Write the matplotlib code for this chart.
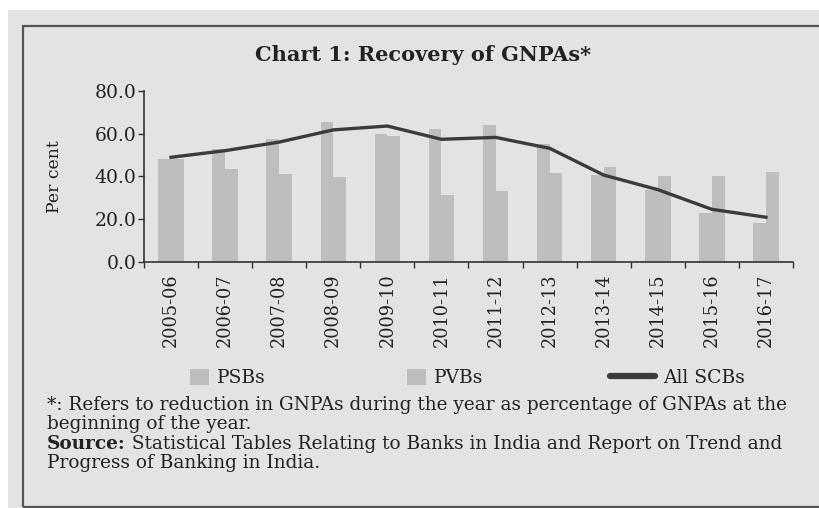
import matplotlib
matplotlib.use("Agg")
import matplotlib.pyplot as plt
from matplotlib.patches import Rectangle
import numpy as np

years = ["2005-06", "2006-07", "2007-08", "2008-09", "2009-10", "2010-11",
         "2011-12", "2012-13", "2013-14", "2014-15", "2015-16", "2016-17"]
psbs = [48.0, 53.0, 57.6, 65.6, 59.6, 62.1, 63.9, 55.1, 40.8, 33.6, 23.0, 18.4]
pvbs = [48.0, 43.4, 41.3, 39.9, 59.0, 31.1, 33.3, 41.4, 44.2, 40.0, 40.2, 42.0]
all_scbs = [48.9, 52.0, 56.0, 61.7, 63.5, 57.3, 58.2, 53.1, 40.6, 33.8, 24.6, 20.9]

BG = "#e3e3e3"
BAR = "#bebebe"
LINE = "#3b3b3b"
TXT = "#222222"
SERIF = "DejaVu Serif"

fig = plt.figure(figsize=(8.2, 5.08), dpi=100)
fig.patch.set_facecolor("white")

# grey panel + dark frame
fig.patches.append(Rectangle((8 / 820, 0), 1, 1 - 10 / 508, transform=fig.transFigure,
                             facecolor=BG, edgecolor="none", zorder=-3))
fig.patches.append(Rectangle((23.5 / 820, 1.5 / 508), 1, 1 - 27 / 508, transform=fig.transFigure,
                             facecolor="none", edgecolor="#555555", linewidth=1.6, zorder=-2))

ax = fig.add_axes([144 / 820, 1 - 262 / 508, 649 / 820, 171.3 / 508])
ax.set_facecolor(BG)

x = np.arange(len(years))
w = 0.235
ax.bar(x - w / 2, psbs, w, color=BAR, label="PSBs", zorder=2)
ax.bar(x + w / 2, pvbs, w, color=BAR, label="PVBs", zorder=2)
ax.plot(x, all_scbs, color=LINE, linewidth=2.4, label="All SCBs", zorder=3)

ax.set_xlim(-0.5, len(years) - 0.5)
ax.set_ylim(0, 80)
ax.set_yticks([0, 20, 40, 60, 80])
ax.set_yticklabels([f"{v:.1f}" for v in [0, 20, 40, 60, 80]], fontfamily=SERIF, fontsize=13.5, color=TXT)

# ticks at category boundaries, labels at centres
ax.set_xticks(np.arange(-0.5, len(years), 1.0))
ax.set_xticklabels([])
ax.set_xticks(x, minor=True)
ax.set_xticklabels(years, minor=True, rotation=90, fontfamily=SERIF, fontsize=12.8, color=TXT)
ax.tick_params(axis="x", which="major", length=4.5, width=1, color="#333333", direction="out")
ax.tick_params(axis="x", which="minor", length=0, pad=8)
ax.tick_params(axis="y", length=4.5, width=1, color="#333333", pad=1)

for s in ["top", "right"]:
    ax.spines[s].set_visible(False)
for s in ["left", "bottom"]:
    ax.spines[s].set_color("#333333")
    ax.spines[s].set_linewidth(1.2)

ax.set_ylabel("Per cent", fontfamily=SERIF, fontsize=12.4, color=TXT)
ax.yaxis.set_label_coords(-0.125, 0.5)

fig.text(423 / 820, 1 - 55 / 508, "Chart 1: Recovery of GNPAs*", ha="center", va="center",
         fontfamily=SERIF, fontweight="bold", fontsize=15, color=TXT)

# legend: three separate entries
handles, labels = ax.get_legend_handles_labels()
hmap = dict(zip(labels, handles))
leg_y = 1 - 378 / 508
for l, xpx, hl in [("PSBs", 190, 1.0), ("PVBs", 407, 1.0), ("All SCBs", 610, 2.4)]:
    leg = fig.legend([hmap[l]], [l], loc="center left", bbox_to_anchor=(xpx / 820, leg_y),
                     frameon=False, borderpad=0, borderaxespad=0, handlelength=hl,
                     handleheight=0.95, handletextpad=0.45,
                     prop={"family": SERIF, "size": 13.5})
    for t in leg.get_texts():
        t.set_color(TXT)
    for ln in leg.get_lines():
        ln.set_linewidth(4.5)
        ln.set_solid_capstyle("round")

# footnotes
fs = 13.3
fig.text(47 / 820, 1 - 405 / 508,
         "*: Refers to reduction in GNPAs during the year as percentage of GNPAs at the",
         ha="left", va="center", fontfamily=SERIF, fontsize=fs, color=TXT)
fig.text(47 / 820, 1 - 424 / 508, "beginning of the year.",
         ha="left", va="center", fontfamily=SERIF, fontsize=fs, color=TXT)
src = fig.text(47 / 820, 1 - 444 / 508, "Source:",
               ha="left", va="center", fontfamily=SERIF, fontsize=fs, fontweight="bold", color=TXT)
ax.annotate(" Statistical Tables Relating to Banks in India and Report on Trend and",
            xy=(1, 0), xycoords=src, ha="left", va="bottom",
            fontfamily=SERIF, fontsize=fs, color=TXT, annotation_clip=False)
fig.text(47 / 820, 1 - 463 / 508, "Progress of Banking in India.",
         ha="left", va="center", fontfamily=SERIF, fontsize=fs, color=TXT)

fig.savefig("out.png", dpi=100, facecolor=fig.get_facecolor())
